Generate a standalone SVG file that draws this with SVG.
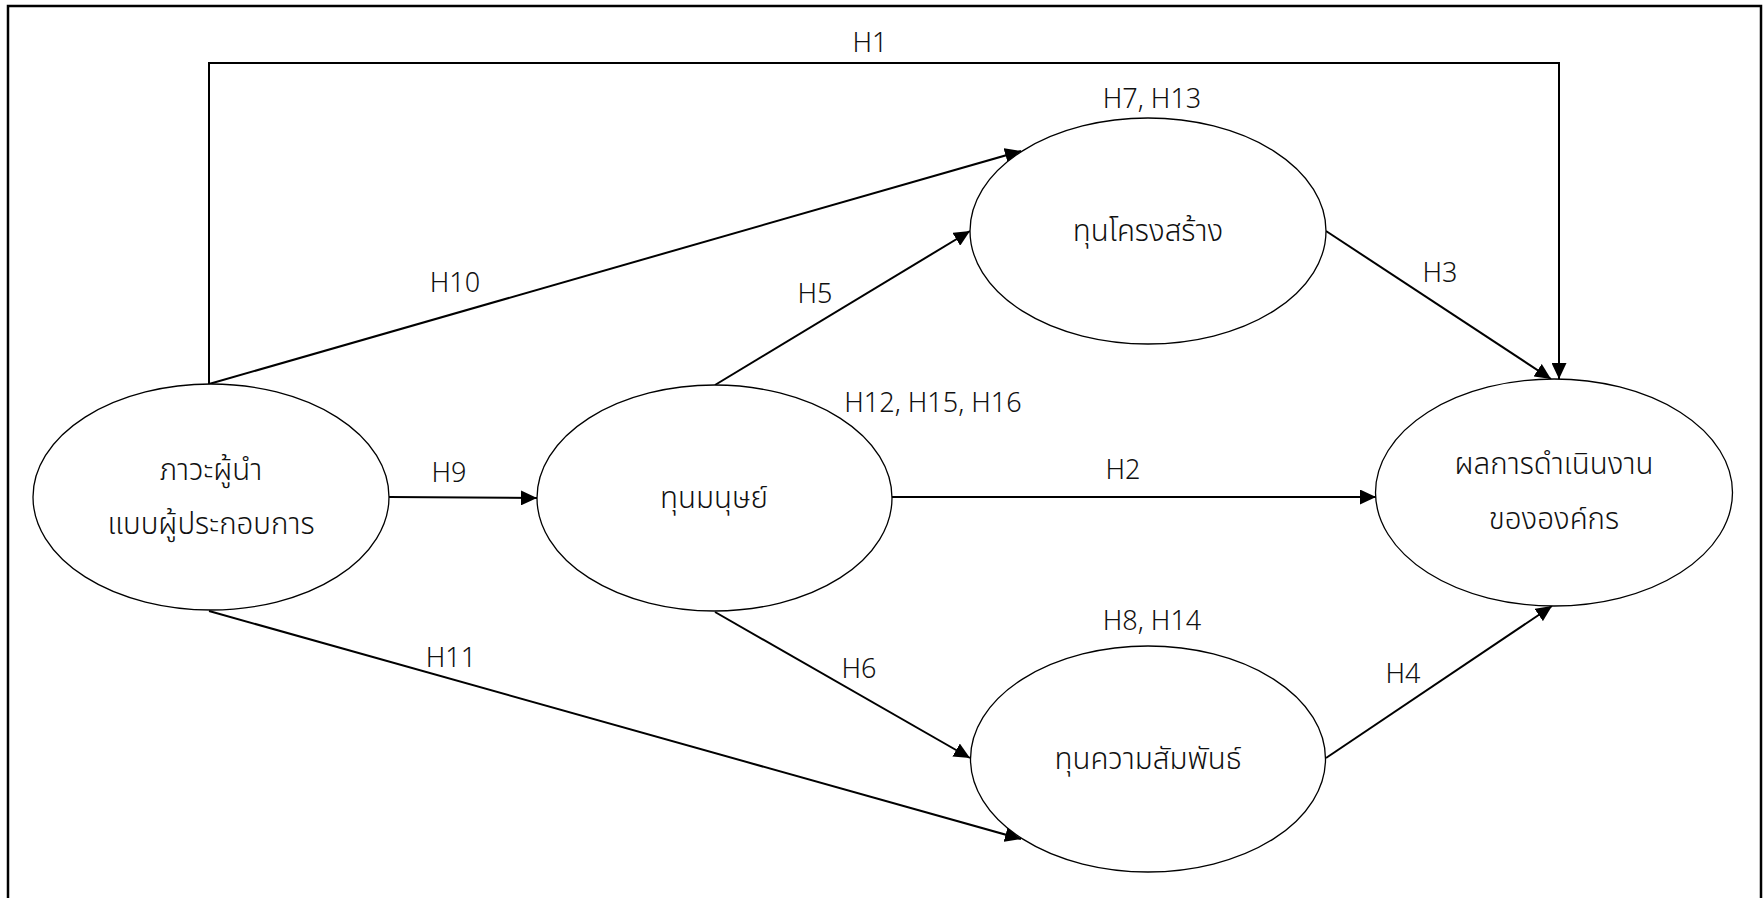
<svg xmlns="http://www.w3.org/2000/svg" width="1764" height="898" viewBox="0 0 1764 898">
  <defs>
    <style>
      .frame { fill: none; stroke: #000; stroke-width: 2.5; }
      .node ellipse { fill: #fff; stroke: #000; stroke-width: 1.3; }
      .node text { font-family: "Noto Sans Thai", "Noto Sans", "DejaVu Sans", sans-serif; font-size: 29.5px; font-weight: 300; fill: #111; text-anchor: middle; }
      .edge { fill: none; stroke: #000; stroke-width: 2; }
      .lbl { font-family: "Noto Sans", "Noto Sans Thai", sans-serif; font-size: 27px; font-weight: 300; fill: #111; text-anchor: middle; }
    </style>
    <marker id="arrow" markerUnits="userSpaceOnUse" markerWidth="16" markerHeight="15" refX="16" refY="7.5" orient="auto">
      <path d="M0,0 L16,7.5 L0,15 Z" fill="#000"/>
    </marker>
  </defs>

  <rect x="0" y="0" width="1764" height="898" fill="#fff"/>
  <rect class="frame" x="8" y="6" width="1753" height="900"/>

  <!-- connectors -->
  <g id="connectors">
    <path class="edge" d="M209,384 V63 H1559 V379" marker-end="url(#arrow)"/>
    <line class="edge" x1="209" y1="384" x2="1021" y2="151" marker-end="url(#arrow)"/>
    <line class="edge" x1="389" y1="497" x2="537" y2="498" marker-end="url(#arrow)"/>
    <line class="edge" x1="209" y1="611" x2="1021" y2="839" marker-end="url(#arrow)"/>
    <line class="edge" x1="715" y1="385" x2="970" y2="231" marker-end="url(#arrow)"/>
    <line class="edge" x1="892" y1="497" x2="1376" y2="497" marker-end="url(#arrow)"/>
    <line class="edge" x1="715" y1="612" x2="970" y2="758" marker-end="url(#arrow)"/>
    <line class="edge" x1="1326" y1="231" x2="1551" y2="379" marker-end="url(#arrow)"/>
    <line class="edge" x1="1326" y1="758" x2="1552" y2="606" marker-end="url(#arrow)"/>

    <text class="lbl" x="870" y="52">H1</text>
    <text class="lbl" x="455" y="292">H10</text>
    <text class="lbl" x="449" y="482">H9</text>
    <text class="lbl" x="451" y="667">H11</text>
    <text class="lbl" x="815" y="303">H5</text>
    <text class="lbl" x="933" y="412">H12, H15, H16</text>
    <text class="lbl" x="1123" y="479">H2</text>
    <text class="lbl" x="859" y="678">H6</text>
    <text class="lbl" x="1152" y="108">H7, H13</text>
    <text class="lbl" x="1152" y="630">H8, H14</text>
    <text class="lbl" x="1440" y="282">H3</text>
    <text class="lbl" x="1403" y="683">H4</text>
  </g>

  <g id="leadership" class="node">
    <ellipse cx="211" cy="497" rx="178" ry="113"/>
    <text x="211" y="480">ภาวะผู้นำ</text>
    <text x="211" y="534">แบบผู้ประกอบการ</text>
  </g>

  <g id="human-capital" class="node">
    <ellipse cx="714.5" cy="498" rx="177.5" ry="113"/>
    <text x="714" y="508">ทุนมนุษย์</text>
  </g>

  <g id="structural-capital" class="node">
    <ellipse cx="1148" cy="231" rx="178" ry="113"/>
    <text x="1148" y="241">ทุนโครงสร้าง</text>
  </g>

  <g id="relational-capital" class="node">
    <ellipse cx="1148" cy="759" rx="177.5" ry="113"/>
    <text x="1148" y="769">ทุนความสัมพันธ์</text>
  </g>

  <g id="performance" class="node">
    <ellipse cx="1554" cy="492.5" rx="178.5" ry="113.5"/>
    <text x="1554" y="474">ผลการดำเนินงาน</text>
    <text x="1554" y="529">ขององค์กร</text>
  </g>
</svg>
